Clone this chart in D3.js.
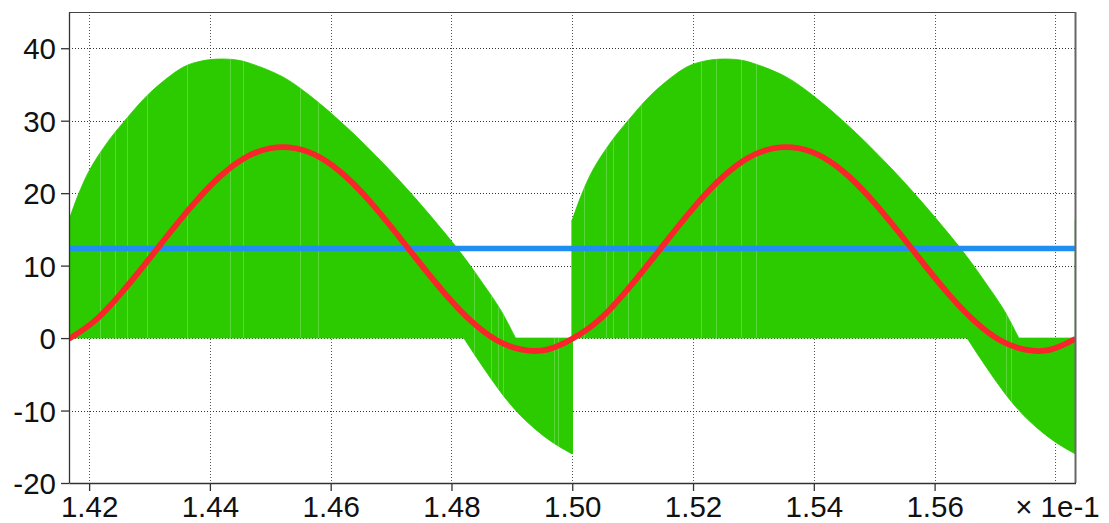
<!DOCTYPE html>
<html>
<head>
<meta charset="utf-8">
<script src="https://cdn.jsdelivr.net/npm/d3@7"></script>
<style>
  html, body { margin: 0; padding: 0; background: #fff; }
  svg { display: block; }
</style>
</head>
<body>
<svg id="chart" width="1109" height="523"></svg>
<script>
// ---------------- data ----------------
const xDomain = [1.41667, 1.58333];
const yDomain = [-20, 45];

const xTicks = [1.42, 1.44, 1.46, 1.48, 1.50, 1.52, 1.54, 1.56];
const xTickLabels = ["1.42", "1.44", "1.46", "1.48", "1.50", "1.52", "1.54", "1.56"];
const xGridExtra = [1.58];
const exponentLabel = "× 1e-1";
const exponentAt = 1.58;

const yTicks = [-20, -10, 0, 10, 20, 30, 40];
const yTickLabels = ["-20", "-10", "0", "10", "20", "30", "40"];

// green PWM signal: upper envelope (positive pulses), cycle 1 and cycle 2
const upTime1 = [1.41667, 1.41821, 1.42008, 1.42302, 1.42600, 1.43014, 1.43561, 1.43842, 1.44124, 1.44422,
                 1.44671, 1.45217, 1.45665, 1.46278, 1.46907, 1.47454, 1.48150, 1.48531, 1.48813, 1.49061];
const upVal1  = [16.3, 19.8, 23.2, 27.0, 30.1, 33.9, 37.4, 38.2, 38.5, 38.4,
                 37.9, 36.0, 33.4, 29.0, 23.8, 18.8, 11.8, 7.4, 3.9, 0];
const upTime2 = [1.50000, 1.50154, 1.50341, 1.50635, 1.50933, 1.51347, 1.51894, 1.52175, 1.52457, 1.52755,
                 1.53004, 1.53550, 1.53998, 1.54611, 1.55240, 1.55787, 1.56483, 1.56864, 1.57146, 1.57394];
const upVal2  = [16.3, 19.8, 23.2, 27.0, 30.1, 33.9, 37.4, 38.2, 38.5, 38.4,
                 37.9, 36.0, 33.4, 29.0, 23.8, 18.8, 11.8, 7.4, 3.9, 0];
// green PWM signal: lower envelope (negative pulses)
const lowTime1 = [1.48204, 1.48448, 1.48696, 1.48912, 1.49144, 1.49392, 1.49674, 1.50000];
const lowVal1  = [0, -3.1, -6.1, -8.5, -10.7, -12.6, -14.4, -16.0];
const lowTime2 = [1.56537, 1.56781, 1.57029, 1.57245, 1.57477, 1.57725, 1.58007, 1.58333];
const lowVal2  = [0, -3.1, -6.1, -8.5, -10.7, -12.6, -14.4, -16.0];
// vertical jumps of the green signal
const jumpTime = [1.41667, 1.50000, 1.58333];
const jumpLow  = [-16.0, -16.0, -16.0];
const jumpHigh = [16.3, 16.3, 16.3];
// faint gaps between PWM pulses (lighter streaks inside the green)
const gapTime = [1.42186, 1.42434, 1.42633, 1.42964, 1.43627, 1.44339, 1.44554, 1.45498, 1.45797,
                 1.48365, 1.48647, 1.48763, 1.48846, 1.49691, 1.49757,
                 1.50188, 1.50553, 1.50669, 1.50917, 1.51133, 1.52127, 1.52376, 1.52790, 1.53039,
                 1.57181, 1.57264];

// red averaged signal
const redTime = [1.41667, 1.42083, 1.42500, 1.42917, 1.43333, 1.43750, 1.44167, 1.44583, 1.45000, 1.45417,
                 1.45833, 1.46250, 1.46667, 1.47083, 1.47500, 1.47917, 1.48333, 1.48750, 1.49167, 1.49583,
                 1.50000, 1.50417, 1.50833, 1.51250, 1.51667, 1.52083, 1.52500, 1.52917, 1.53333, 1.53750,
                 1.54167, 1.54583, 1.55000, 1.55417, 1.55833, 1.56250, 1.56667, 1.57083, 1.57500, 1.57917, 1.58333];
const redVal  = [-0.1, 2.3, 5.9, 10.1, 14.5, 18.7, 22.3, 24.9, 26.2, 26.2,
                 24.9, 22.3, 18.7, 14.5, 10.1, 5.9, 2.3, -0.3, -1.6, -1.6,
                 -0.1, 2.3, 5.9, 10.1, 14.5, 18.7, 22.3, 24.9, 26.2, 26.2,
                 24.9, 22.3, 18.7, 14.5, 10.1, 5.9, 2.3, -0.3, -1.6, -1.6, -0.1];

// blue DC level
const blueTime = [1.41667, 1.58333];
const blueVal  = [12.35, 12.35];

// ---------------- drawing ----------------
const W = 1109, H = 523;
const m = { left: 69, right: 33.5, top: 12, bottom: 40 };
const pw = W - m.left - m.right, ph = H - m.top - m.bottom;
const FONT = "'Liberation Sans', Arial, Helvetica, sans-serif";

const svg = d3.select("#chart");
const x = d3.scaleLinear().domain(xDomain).range([m.left, m.left + pw]);
const y = d3.scaleLinear().domain(yDomain).range([m.top + ph, m.top]);

const defs = svg.append("defs");
defs.append("clipPath").attr("id", "clip")
  .append("rect").attr("x", m.left).attr("y", m.top).attr("width", pw).attr("height", ph);

// grid
const grid = svg.append("g").attr("shape-rendering", "crispEdges");
grid.selectAll("line.v").data(xTicks.concat(xGridExtra)).join("line")
  .attr("x1", d => Math.round(x(d)) + 0.5).attr("x2", d => Math.round(x(d)) + 0.5)
  .attr("y1", m.top).attr("y2", m.top + ph)
  .attr("stroke", "#555").attr("stroke-width", 1).attr("stroke-dasharray", "1,2");
grid.selectAll("line.h").data(yTicks.filter(d => d > yDomain[0])).join("line")
  .attr("y1", d => Math.round(y(d)) + 0.5).attr("y2", d => Math.round(y(d)) + 0.5)
  .attr("x1", m.left).attr("x2", m.left + pw)
  .attr("stroke", "#333").attr("stroke-width", 1).attr("stroke-dasharray", "1,2");

const plot = svg.append("g").attr("clip-path", "url(#clip)");
const green = "#2bcb00";
const curve = d3.curveCatmullRom.alpha(0.5);

const envArea = d3.area().x(d => x(d[0])).y0(y(0)).y1(d => y(d[1])).curve(curve);
const envSets = [[upTime1, upVal1], [upTime2, upVal2], [lowTime1, lowVal1], [lowTime2, lowVal2]];

const greenClip = defs.append("clipPath").attr("id", "greenClip");
envSets.forEach(([t, v]) => {
  const dat = t.map((d, i) => [d, v[i]]);
  plot.append("path").datum(dat)
    .attr("d", envArea).attr("fill", green).attr("stroke", green).attr("stroke-width", 0.8);
  greenClip.append("path").datum(dat).attr("d", envArea);
});
plot.selectAll("line.jump").data(jumpTime).join("line")
  .attr("x1", d => x(d)).attr("x2", d => x(d))
  .attr("y1", (d, i) => y(jumpLow[i])).attr("y2", (d, i) => y(jumpHigh[i]))
  .attr("stroke", green).attr("stroke-width", 1.5);

// faint streaks
plot.append("g").attr("clip-path", "url(#greenClip)")
  .selectAll("line").data(gapTime).join("line")
  .attr("x1", d => Math.round(x(d)) + 0.5).attr("x2", d => Math.round(x(d)) + 0.5)
  .attr("y1", m.top).attr("y2", m.top + ph)
  .attr("stroke", "#ffffff").attr("stroke-opacity", 0.22).attr("stroke-width", 1);

// blue line
plot.append("path").datum(blueTime.map((d, i) => [d, blueVal[i]]))
  .attr("d", d3.line().x(d => x(d[0])).y(d => y(d[1])))
  .attr("fill", "none").attr("stroke", "#1f8ef1").attr("stroke-width", 5.5);

// red line
plot.append("path").datum(redTime.map((d, i) => [d, redVal[i]]))
  .attr("d", d3.line().x(d => x(d[0])).y(d => y(d[1])).curve(d3.curveNatural))
  .attr("fill", "none").attr("stroke", "#f8262a").attr("stroke-width", 5.8)
  .attr("stroke-linejoin", "round");

// frame
svg.append("line").attr("x1", m.left).attr("x2", m.left + pw).attr("y1", m.top + 0.5).attr("y2", m.top + 0.5)
  .attr("stroke", "#444").attr("stroke-width", 1);
svg.append("line").attr("x1", m.left + pw).attr("x2", m.left + pw).attr("y1", m.top).attr("y2", m.top + ph)
  .attr("stroke", "#666").attr("stroke-width", 2);

// axes
const xAxis = d3.axisBottom(x).tickValues(xTicks).tickFormat((d, i) => xTickLabels[i])
  .tickSizeInner(8).tickSizeOuter(0).tickPadding(6);
const gx = svg.append("g").attr("transform", `translate(0,${m.top + ph})`).call(xAxis);
const yAxis = d3.axisLeft(y).tickValues(yTicks).tickFormat((d, i) => yTickLabels[i])
  .tickSizeInner(8).tickSizeOuter(0).tickPadding(5);
const gy = svg.append("g").attr("transform", `translate(${m.left},0)`).call(yAxis);

[gx, gy].forEach(g => {
  g.attr("font-family", FONT);
  g.select(".domain").attr("stroke", "#333").attr("stroke-width", 1.3);
  g.selectAll(".tick line").attr("stroke", "#333").attr("stroke-width", 1.3);
  g.selectAll(".tick text").attr("font-size", 29.5).attr("font-family", FONT).attr("fill", "#111");
});
gx.selectAll(".tick text").attr("dy", null).attr("y", 34);
gy.selectAll(".tick text").attr("dy", "0.36em");

svg.append("text").attr("x", x(exponentAt) + 2).attr("y", m.top + ph + 34)
  .attr("text-anchor", "middle").attr("font-size", 29.5).attr("font-family", FONT)
  .attr("fill", "#111").text(exponentLabel);
</script>
</body>
</html>
